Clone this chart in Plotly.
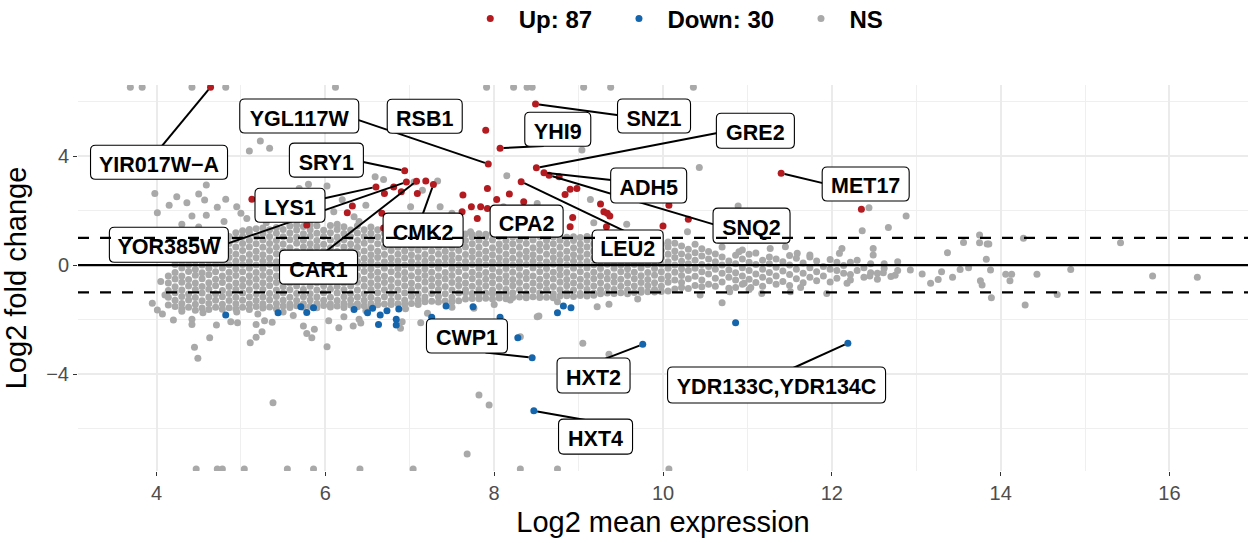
import math
import plotly.graph_objects as go

FONT = "Liberation Sans, Arial, Helvetica, sans-serif"
RED, BLUE, GREY = "#B31B21", "#1465AC", "#A9A9A9"

# ---------------- data ----------------
n_up, n_down = 87, 30
fc_line = 1.0
y_clip_hi, y_clip_lo = 6.53, -7.49

x_ticks = [4, 6, 8, 10, 12, 14, 16]
y_ticks = [-4, 0, 4]
y_tick_text = ["\u22124", "0", "4"]

# labelled genes
lab_gene = ["YIR017W\u2212A", "YGL117W", "RSB1", "SNZ1", "YHI9", "GRE2", "SRY1", "LYS1",
            "YOR385W", "CAR1", "CMK2", "CPA2", "LEU2", "ADH5", "SNQ2", "MET17",
            "CWP1", "HXT2", "HXT4", "YDR133C,YDR134C"]
lab_x = [4.64, 7.93, 7.90, 8.49, 8.07, 8.50, 6.94, 6.60, 6.96, 7.08, 7.28, 7.92, 8.32,
         8.59, 8.65, 11.40, 8.45, 9.76, 8.47, 12.19]
lab_y = [6.53, 3.71, 4.95, 5.91, 4.29, 3.57, 3.46, 2.87, 3.05, 3.08, 2.96, 2.08, 3.06,
         3.39, 3.30, 3.37, -3.40, -2.91, -5.35, -2.87]
lab_dir = ["up"] * 16 + ["down"] * 4

# other up-regulated genes
up_x = [5.13, 6.70, 6.32, 6.26, 6.67, 5.78, 6.69, 6.81, 6.90, 7.19, 7.92, 8.18, 8.03, 8.35,
        7.63, 7.73, 7.84, 7.62, 7.80, 8.90, 8.98, 8.84, 9.26, 9.30, 9.34, 9.37, 8.93, 8.90,
        9.33, 10.00, 10.07, 10.30, 12.35, 8.77, 7.09]
up_y = [2.42, 2.63, 2.17, 1.92, 1.90, 1.47, 1.36, 2.87, 2.69, 3.09, 2.81, 2.61, 2.41, 2.32,
        2.57, 2.14, 2.14, 1.96, 1.71, 2.78, 2.81, 2.59, 2.24, 1.96, 1.90, 1.80, 1.75, 1.41,
        1.41, 1.43, 2.20, 1.68, 2.05, 3.24, 2.63]

# other down-regulated genes
down_x = [4.82, 5.44, 5.71, 5.78, 5.86, 6.34, 6.50, 6.56, 6.63, 6.65, 6.73, 6.84, 6.84, 6.87,
          7.43, 7.75, 7.26, 8.07, 8.28, 8.82, 8.91, 8.75, 10.86]
down_y = [-1.83, -1.75, -1.53, -1.74, -1.57, -1.63, -1.75, -1.59, -2.18, -1.83, -1.68, -1.99,
          -2.20, -1.61, -1.50, -1.53, -1.92, -1.92, -2.67, -1.50, -1.57, -1.75, -2.12]

# NS genes: dense central band, read column by column (x, fold changes)
ns_band = [
    (4.14, [-1.47, -1.18, -0.93, -0.66, -0.40]),
    (4.22, [-1.52, -1.29, -1.02, -0.80, -0.51, -0.27, 0.02]),
    (4.30, [-1.60, -1.41, -1.15, -0.92, -0.63, -0.40, -0.11, 0.12, 0.30]),
    (4.38, [-1.55, -1.28, -1.06, -0.77, -0.53, -0.24, 0.01, 0.27, 0.49]),
    (4.46, [-1.66, -1.44, -1.19, -0.90, -0.66, -0.37, -0.15, 0.14, 0.38, 0.62]),
    (4.54, [-1.58, -1.31, -1.03, -0.79, -0.50, -0.28, 0.00, 0.25, 0.53, 0.78]),
    (4.62, [-1.63, -1.41, -1.17, -0.89, -0.65, -0.36, -0.12, 0.15, 0.42, 0.66, 0.90]),
    (4.70, [-1.55, -1.29, -1.05, -0.76, -0.52, -0.25, 0.03, 0.27, 0.54, 0.80, 1.01]),
    (4.78, [-1.62, -1.44, -1.16, -0.93, -0.64, -0.40, -0.11, 0.12, 0.40, 0.65, 0.92, 1.06]),
    (4.86, [-1.57, -1.30, -1.04, -0.79, -0.51, -0.26, 0.01, 0.28, 0.52, 0.79, 1.05]),
    (4.94, [-1.61, -1.42, -1.18, -0.90, -0.66, -0.38, -0.14, 0.14, 0.40, 0.66, 0.93, 1.19]),
    (5.02, [-1.55, -1.29, -1.03, -0.77, -0.53, -0.25, 0.02, 0.26, 0.53, 0.79, 1.05, 1.26]),
    (5.10, [-1.63, -1.43, -1.16, -0.91, -0.64, -0.39, -0.12, 0.13, 0.39, 0.66, 0.91, 1.18, 1.31]),
    (5.18, [-1.52, -1.30, -1.05, -0.78, -0.52, -0.27, 0.00, 0.27, 0.51, 0.78, 1.04, 1.33]),
    (5.26, [-1.58, -1.42, -1.17, -0.90, -0.65, -0.38, -0.13, 0.14, 0.38, 0.65, 0.92, 1.16, 1.36]),
    (5.34, [-1.54, -1.28, -1.04, -0.76, -0.51, -0.26, 0.03, 0.26, 0.53, 0.79, 1.05, 1.30]),
    (5.42, [-1.60, -1.41, -1.15, -0.92, -0.64, -0.40, -0.12, 0.12, 0.41, 0.65, 0.90, 1.17, 1.38]),
    (5.50, [-1.50, -1.29, -1.03, -0.79, -0.52, -0.25, 0.01, 0.28, 0.52, 0.77, 1.04, 1.31]),
    (5.58, [-1.56, -1.43, -1.18, -0.91, -0.66, -0.37, -0.14, 0.15, 0.39, 0.64, 0.93, 1.18, 1.43]),
    (5.66, [-1.49, -1.30, -1.04, -0.77, -0.50, -0.27, 0.00, 0.25, 0.51, 0.80, 1.03, 1.29, 1.47]),
    (5.74, [-1.55, -1.42, -1.16, -0.90, -0.63, -0.39, -0.13, 0.13, 0.38, 0.66, 0.91, 1.15, 1.42]),
    (5.82, [-1.51, -1.28, -1.05, -0.78, -0.53, -0.24, 0.02, 0.27, 0.54, 0.78, 1.06, 1.30, 1.48]),
    (5.90, [-1.57, -1.41, -1.17, -0.92, -0.65, -0.38, -0.11, 0.12, 0.40, 0.67, 0.90, 1.17, 1.44]),
    (5.98, [-1.48, -1.29, -1.02, -0.76, -0.51, -0.26, 0.01, 0.28, 0.52, 0.76, 1.05, 1.28]),
    (6.06, [-1.54, -1.43, -1.18, -0.89, -0.64, -0.40, -0.12, 0.15, 0.41, 0.64, 0.92, 1.19, 1.45]),
    (6.14, [-1.50, -1.30, -1.03, -0.79, -0.52, -0.25, 0.03, 0.26, 0.50, 0.79, 1.03, 1.31, 1.50]),
    (6.22, [-1.56, -1.40, -1.16, -0.91, -0.66, -0.37, -0.13, 0.14, 0.39, 0.66, 0.93, 1.16, 1.41]),
    (6.30, [-1.47, -1.27, -1.04, -0.77, -0.50, -0.27, 0.00, 0.27, 0.53, 0.77, 1.04, 1.29]),
    (6.38, [-1.53, -1.42, -1.17, -0.92, -0.63, -0.39, -0.11, 0.13, 0.40, 0.65, 0.90, 1.18, 1.44]),
    (6.46, [-1.49, -1.29, -1.05, -0.78, -0.52, -0.24, 0.02, 0.25, 0.52, 0.80, 1.05, 1.30]),
    (6.54, [-1.55, -1.41, -1.18, -0.90, -0.65, -0.38, -0.14, 0.14, 0.38, 0.64, 0.92, 1.17, 1.40]),
    (6.62, [-1.46, -1.28, -1.02, -0.76, -0.51, -0.26, 0.01, 0.28, 0.51, 0.78, 1.04, 1.30]),
    (6.70, [-1.43, -1.16, -0.91, -0.64, -0.40, -0.12, 0.12, 0.39, 0.66, 0.91, 1.17, 1.36]),
    (6.78, [-1.45, -1.30, -1.04, -0.79, -0.53, -0.25, 0.03, 0.26, 0.53, 0.79, 1.03, 1.29]),
    (6.86, [-1.42, -1.17, -0.92, -0.65, -0.37, -0.13, 0.15, 0.40, 0.65, 0.92, 1.18, 1.33]),
    (6.94, [-1.44, -1.29, -1.03, -0.77, -0.51, -0.27, 0.00, 0.27, 0.52, 0.77, 1.05, 1.27]),
    (7.02, [-1.41, -1.15, -0.90, -0.66, -0.39, -0.11, 0.13, 0.38, 0.64, 0.90, 1.16, 1.35]),
    (7.10, [-1.45, -1.28, -1.05, -0.78, -0.50, -0.25, 0.02, 0.28, 0.54, 0.78, 1.04, 1.28]),
    (7.18, [-1.35, -1.17, -0.91, -0.63, -0.38, -0.14, 0.14, 0.39, 0.66, 0.92, 1.17]),
    (7.26, [-1.33, -1.04, -0.77, -0.52, -0.26, 0.01, 0.25, 0.52, 0.79, 1.03, 1.25]),
    (7.34, [-1.36, -1.16, -0.90, -0.65, -0.40, -0.12, 0.12, 0.40, 0.65, 0.91, 1.18]),
    (7.42, [-1.32, -1.05, -0.79, -0.51, -0.27, 0.03, 0.27, 0.51, 0.78, 1.05, 1.22]),
    (7.50, [-1.35, -1.18, -0.92, -0.64, -0.38, -0.13, 0.15, 0.38, 0.64, 0.93, 1.16]),
    (7.58, [-1.31, -1.03, -0.76, -0.53, -0.25, 0.00, 0.26, 0.53, 0.77, 1.04, 1.24]),
    (7.66, [-1.25, -1.02, -0.91, -0.66, -0.39, -0.11, 0.13, 0.39, 0.66, 0.90, 1.14]),
    (7.74, [-1.23, -1.04, -0.78, -0.50, -0.26, 0.02, 0.28, 0.52, 0.78, 1.03, 1.12]),
    (7.82, [-1.24, -1.07, -0.90, -0.64, -0.37, -0.12, 0.14, 0.40, 0.65, 0.91, 1.15]),
    (7.90, [-1.22, -1.03, -0.77, -0.52, -0.27, 0.01, 0.26, 0.51, 0.79, 1.04, 1.13]),
    (7.98, [-1.25, -1.05, -0.92, -0.65, -0.40, -0.14, 0.12, 0.38, 0.64, 0.92, 1.15]),
    (8.06, [-1.21, -1.05, -0.79, -0.51, -0.25, 0.03, 0.27, 0.53, 0.77, 1.05, 1.12]),
    (8.14, [-1.24, -1.06, -0.90, -0.63, -0.39, -0.13, 0.15, 0.40, 0.66, 0.90, 1.14]),
    (8.22, [-1.19, -1.02, -0.76, -0.53, -0.26, 0.00, 0.25, 0.52, 0.78, 1.03, 1.10]),
    (8.30, [-1.17, -0.91, -0.64, -0.38, -0.12, 0.13, 0.39, 0.65, 0.91, 1.08]),
    (8.38, [-1.20, -1.04, -0.78, -0.50, -0.27, 0.02, 0.28, 0.51, 0.79, 1.04]),
    (8.46, [-1.16, -0.92, -0.66, -0.40, -0.11, 0.14, 0.38, 0.64, 0.92, 1.09]),
    (8.54, [-1.19, -1.03, -0.77, -0.52, -0.25, 0.01, 0.26, 0.53, 0.77, 1.05]),
    (8.62, [-1.18, -0.90, -0.65, -0.39, -0.13, 0.12, 0.40, 0.66, 0.90, 1.07]),
    (8.70, [-1.20, -1.05, -0.79, -0.51, -0.26, 0.03, 0.27, 0.52, 0.78, 1.03]),
    (8.78, [-1.14, -0.91, -0.63, -0.37, -0.14, 0.15, 0.39, 0.65, 0.91, 1.05]),
    (8.86, [-1.13, -1.02, -0.76, -0.53, -0.27, 0.00, 0.25, 0.51, 0.79, 1.02]),
    (8.94, [-1.15, -0.92, -0.66, -0.40, -0.12, 0.14, 0.38, 0.64, 0.90, 1.04]),
    (9.02, [-1.12, -1.04, -0.78, -0.52, -0.25, 0.02, 0.28, 0.53, 0.77, 1.01]),
    (9.10, [-1.14, -0.90, -0.64, -0.38, -0.11, 0.13, 0.40, 0.66, 0.92, 1.05]),
    (9.18, [-1.11, -1.03, -0.77, -0.50, -0.26, 0.01, 0.26, 0.52, 0.78, 1.03]),
    (9.26, [-1.05, -0.91, -0.65, -0.39, -0.13, 0.15, 0.39, 0.65, 0.91, 1.00]),
    (9.34, [-1.03, -0.79, -0.51, -0.27, 0.03, 0.27, 0.51, 0.79, 0.98]),
    (9.42, [-1.04, -0.90, -0.63, -0.40, -0.12, 0.12, 0.38, 0.64, 0.92]),
    (9.50, [-1.02, -0.78, -0.52, -0.25, 0.00, 0.28, 0.53, 0.77, 0.99]),
    (9.58, [-1.05, -0.92, -0.66, -0.38, -0.14, 0.14, 0.40, 0.66, 0.90]),
    (9.66, [-1.01, -0.77, -0.50, -0.26, 0.02, 0.25, 0.52, 0.78, 0.97]),
    (9.74, [-1.00, -0.91, -0.64, -0.39, -0.11, 0.13, 0.39, 0.65, 0.89]),
    (9.82, [-0.98, -0.76, -0.53, -0.27, 0.01, 0.26, 0.50, 0.79, 0.88]),
    (9.90, [-0.99, -0.90, -0.65, -0.37, -0.13, 0.15, 0.38, 0.64, 0.86]),
    (9.98, [-0.97, -0.78, -0.51, -0.25, 0.03, 0.27, 0.53, 0.77]),
    (10.06, [-0.95, -0.63, -0.40, -0.12, 0.12, 0.40, 0.66, 0.85]),
    (10.14, [-0.88, -0.55, -0.26, 0.00, 0.28, 0.52, 0.80]),
    (10.22, [-0.82, -0.64, -0.38, -0.14, 0.14, 0.41, 0.70]),
    (10.30, [-0.86, -0.50, -0.20, 0.05, 0.31, 0.58]),
    (10.38, [-0.75, -0.41, -0.12, 0.18, 0.45, 0.76]),
    (10.46, [-0.80, -0.55, -0.25, 0.02, 0.33, 0.60]),
    (10.54, [-0.70, -0.33, -0.05, 0.22, 0.50]),
    (10.62, [-0.78, -0.48, -0.15, 0.12, 0.41]),
    (10.70, [-0.62, -0.30, 0.00, 0.30, 0.66]),
    (10.78, [-0.85, -0.45, -0.18, 0.15]),
    (10.86, [-0.82, -0.55, -0.28, 0.05, 0.36]),
    (10.94, [-0.70, -0.40, -0.10, 0.22, 0.55]),
    (11.02, [-0.90, -0.52, -0.20, 0.10, 0.40]),
    (11.10, [-0.64, -0.33, 0.02, 0.44]),
    (11.18, [-0.78, -0.45, -0.15, 0.18]),
    (11.26, [-0.58, -0.27, 0.05, 0.30]),
    (11.34, [-0.70, -0.40, -0.08, 0.22]),
    (11.42, [-0.60, -0.22, 0.12]),
    (11.50, [-0.75, -0.35, 0.00, 0.35]),
    (11.58, [-0.50, -0.15, 0.25]),
    (11.66, [-0.65, -0.30, 0.08]),
    (11.74, [-0.45, -0.10, 0.30]),
    (11.82, [-0.58, -0.25, 0.15]),
    (11.90, [-0.40, -0.05]),
    (11.98, [-0.62, -0.15, 0.20]),
    (12.06, [-0.48, -0.20, 0.10]),
    (12.14, [-0.30, -0.02]),
    (12.22, [-0.55, -0.35, 0.10]),
    (12.30, [-0.20, 0.18]),
    (12.38, [-0.45, -0.10]),
    (12.46, [-0.28, 0.05]),
    (12.54, [-0.52, -0.30]),
    (12.62, [-0.12, 0.05]),
    (12.70, [-0.42]),
    (12.78, [-0.20, 0.12]),
]

# NS genes outside the band
ns_x = [5.23, 5.10, 5.34, 4.59, 3.98, 4.24, 4.50, 4.82, 4.36, 4.57, 4.15, 4.72, 4.01, 4.42,
        4.59, 4.95, 5.80, 6.02, 5.69, 6.59, 6.69, 6.48, 6.10, 6.34, 5.07, 5.26, 5.45, 5.67,
        5.86, 9.04, 8.15, 9.14, 9.57, 10.43, 7.05, 7.33, 7.15, 7.36, 7.01, 8.11, 8.51, 10.89,
        12.44, 12.88, 12.67, 12.36, 13.75, 13.56, 13.84, 13.37, 13.83, 12.49, 12.49, 12.12,
        12.09, 14.27, 15.42, 9.18, 10.29, 7.72, 4.30, 4.50, 4.80, 5.00, 5.30, 5.60, 5.90,
        6.20, 6.40, 6.80, 7.10, 7.40, 7.50, 11.27, 11.45, 10.90, 11.59, 11.74, 13.75, 13.86,
        13.88, 14.06, 14.13, 14.43, 14.83, 15.80, 16.33, 14.29, 13.89, 14.67, 14.11, 13.78,
        13.52, 13.62, 13.76, 13.43, 13.17, 13.26, 13.30, 13.07, 12.93, 12.75, 12.61, 12.45,
        12.18, 11.94, 11.63, 11.51, 11.17, 11.04, 10.96, 10.70, 10.44, 10.79,
        4.01, 4.07, 4.20, 4.42, 4.42, 4.45, 4.49, 4.63, 4.71, 4.88, 4.96, 5.11, 5.18, 5.25,
        5.18, 5.28, 5.37, 5.38, 5.74, 5.78, 5.84, 5.87, 6.02, 6.04, 6.16, 6.22, 6.33, 6.40,
        6.42, 6.48, 7.13, 7.21, 6.91, 6.89, 7.76, 8.31, 8.51, 9.05, 9.36, 9.22, 9.36, 7.82,
        7.94, 7.68, 8.19, 8.53, 4.30, 4.55, 4.95, 5.20, 5.50, 5.62, 6.95, 7.50, 8.00, 8.75,
        9.70, 4.10, 4.05, 3.95]
ns_y = [4.55, 4.19, 4.29, 2.94, 2.63, 2.51, 2.61, 2.42, 2.29, 2.39, 2.20, 2.12, 1.92, 1.80,
        1.83, 2.14, 2.97, 2.90, 2.81, 3.24, 3.14, 2.20, 1.96, 1.77, 1.71, 1.90, 1.83, 1.65,
        1.77, 4.22, 3.28, 2.41, 1.50, 3.58, 3.05, 3.09, 2.75, 2.14, 2.14, 2.14, 2.26, 2.17,
        2.10, 1.80, 1.38, 1.26, 1.10, 0.83, 0.77, 0.45, 0.21, 0.61, 0.37, 0.61,
        0.43, 0.98, 0.82, 1.55, 1.22, 1.22, 1.50, 1.40, 1.60, 1.90, 1.55, 2.20, 2.10,
        2.40, 1.60, 1.60, 1.50, 1.60, 1.90, 0.61, 0.67, 0.49, 0.43, 0.37, 0.82, 0.77,
        -0.18, -0.34, -0.34, -0.34, -0.16, -0.40, -0.45, -1.47, -1.20, -1.08, -0.58, -0.73,
        -0.16, -0.10, -0.58, -0.45, -0.67, -0.53, -0.25, -0.33, -0.18, -0.37, -0.28, -0.40,
        -0.67, -1.04, -0.82, -0.98, -1.04, -0.82, -0.67, -1.38, -1.10, -0.98,
        -1.65, -1.80, -2.02, -1.99, -2.18, -3.02, -3.42, -2.67, -2.20, -2.08, -2.12, -2.85,
        -2.65, -2.45, -2.18, -2.04, -2.10, -5.05, -2.24, -2.51, -2.67, -2.36, -3.00, -2.04,
        -2.30, -1.90, -2.24, -1.99, -2.13, -1.68, -2.12, -1.77, -2.08, -2.32, -1.59, -2.63,
        -1.90, -2.87, -3.27, -1.53, -1.44, -4.77, -5.14, -6.94, -1.28, -1.87, -1.70, -1.75,
        -1.72, -1.80, -1.72, -1.85, -1.60, -1.55, -1.45, -1.35, -1.25, -1.10, -0.60, -1.40]

# NS genes squished onto the top / bottom limits of the y scale
ns_top_x = [3.69, 3.83, 4.42, 4.82, 6.12, 7.91, 8.23, 8.39, 8.45, 9.06, 9.38, 10.36]
ns_bot_x = [4.47, 4.72, 4.78, 5.04, 5.55, 5.86, 6.41, 7.04, 8.31, 8.75, 10.07]

# ---------------- label placement (pixels, screen y downwards) ----------------
# (label-centre dx, dy, box width, box height, segment end dx, dy or None)
label_layout = [
    (-51.5, 75, 137, 34, (-48, 58)),
    (-189, -48, 119, 34, (-130, -44)),
    (-61, -14, 75, 34, None),
    (118.5, 12, 73, 34, (82, 11)),
    (57.7, -19, 66, 34, (38.7, -2)),
    (219, -37, 78, 35, (180, -34.7)),
    (-78.3, -10.7, 74, 34, (-41.3, -8.7)),
    (-86, 18.3, 70, 34, (-51, 11.3)),
    (-237.5, 62.8, 119, 35, (-178, 61.3)),
    (-98, 86, 78, 34, (-89, 69)),
    (-10.3, 45.7, 80, 34, (-10.3, 28.7)),
    (39.2, 12.7, 73, 32, None),
    (106.5, 64.8, 71, 33, (99, 47.3)),
    (104.7, 12.8, 76, 35, (66.7, 7.3)),
    (202.5, 50.5, 77, 35, (164, 49)),
    (84.5, 10.7, 87, 34, (41, 9.7)),
    (-65.2, -21.7, 81, 34, (-41.7, -4.7)),
    (-49.2, 31.2, 73, 35, (-35.7, 13.7)),
    (61.7, 25.8, 74, 35, (46.7, 8.3)),
    (-71.3, 41.7, 218, 36, (-52.3, 23.7)),
]

# ---------------- axes geometry ----------------
X_RANGE = [3.07, 16.93]
Y_RANGE = [-7.56, 6.61]
W, H = 1248, 543
M_L, M_R, M_T, M_B = 78, 0, 85, 72
PX_PER_X = (W - M_L - M_R) / (X_RANGE[1] - X_RANGE[0])
PX_PER_Y = (H - M_T - M_B) / (Y_RANGE[1] - Y_RANGE[0])

# ---------------- build traces ----------------
nsx, nsy = [], []
for cx, ys in ns_band:
    nsx += [cx] * len(ys)
    nsy += ys
nsx += ns_x
nsy += ns_y
nsx += ns_top_x
nsy += [y_clip_hi] * len(ns_top_x)
nsx += ns_bot_x
nsy += [y_clip_lo] * len(ns_bot_x)

upx = up_x + [x for x, d in zip(lab_x, lab_dir) if d == "up"]
upy = up_y + [y for y, d in zip(lab_y, lab_dir) if d == "up"]
dnx = down_x + [x for x, d in zip(lab_x, lab_dir) if d == "down"]
dny = down_y + [y for y, d in zip(lab_y, lab_dir) if d == "down"]

MS = 7
fig = go.Figure()
fig.add_trace(go.Scatter(x=nsx, y=nsy, mode="markers", name="<b>NS</b>\u00a0\u00a0",
                         legendrank=3, marker=dict(size=MS, color=GREY, line=dict(width=0))))
fig.add_trace(go.Scatter(x=upx, y=upy, mode="markers", name=f"<b>Up: {n_up}</b>\u00a0\u00a0",
                         legendrank=1, marker=dict(size=MS, color=RED, line=dict(width=0))))
fig.add_trace(go.Scatter(x=dnx, y=dny, mode="markers", name=f"<b>Down: {n_down}</b>\u00a0\u00a0",
                         legendrank=2, marker=dict(size=MS, color=BLUE, line=dict(width=0))))


def rrect_path(cx, cy, w, h, r=5.0):
    x0, x1 = cx - w / 2, cx + w / 2
    y0, y1 = cy - h / 2, cy + h / 2
    return (f"M{x0 + r},{y1} L{x1 - r},{y1} Q{x1},{y1} {x1},{y1 - r} "
            f"L{x1},{y0 + r} Q{x1},{y0} {x1 - r},{y0} L{x0 + r},{y0} "
            f"Q{x0},{y0} {x0},{y0 + r} L{x0},{y1 - r} Q{x0},{y1} {x0 + r},{y1} Z")


seg_shapes, box_shapes, text_shapes = [], [], []
for g, px, py, (dx, dy, w, h, seg) in zip(lab_gene, lab_x, lab_y, label_layout):
    common = dict(xref="x", yref="y", xsizemode="pixel", ysizemode="pixel",
                  xanchor=px, yanchor=py, layer="above")
    if seg is not None:
        ex, ey = seg
        L = math.hypot(ex, ey)
        ux, uy = ex / L, ey / L
        sx, sy = ux * 3.5, uy * 3.5
        ex2, ey2 = ex + ux * 5, ey + uy * 5
        seg_shapes.append(dict(type="line", x0=sx, x1=ex2, y0=-sy, y1=-ey2,
                               line=dict(color="black", width=2.0), **common))
    box_shapes.append(dict(type="path", path=rrect_path(dx, -dy, w, h),
                           fillcolor="white", line=dict(color="black", width=1.1), **common))
    # text carrier in data units (so that the label text renders as part of the shape layer)
    cxd = px + dx / PX_PER_X
    cyd = py - dy / PX_PER_Y
    text_shapes.append(dict(type="rect", xref="x", yref="y", layer="above",
                            x0=cxd - w / 2 / PX_PER_X, x1=cxd + w / 2 / PX_PER_X,
                            y0=cyd - h / 2 / PX_PER_Y, y1=cyd + h / 2 / PX_PER_Y,
                            fillcolor="rgba(0,0,0,0)",
                            line=dict(width=0, color="rgba(0,0,0,0)"),
                            label=dict(text=f"<b>{g}</b>", textposition="middle center",
                                       font=dict(size=21.5, color="black", family=FONT))))

h_lines = [
    dict(type="line", xref="paper", x0=0, x1=1, yref="y", y0=0, y1=0, layer="above",
         line=dict(color="black", width=2.2)),
    dict(type="line", xref="paper", x0=0, x1=1, yref="y", y0=fc_line, y1=fc_line, layer="above",
         line=dict(color="black", width=2.2, dash="11px,11px")),
    dict(type="line", xref="paper", x0=0, x1=1, yref="y", y0=-fc_line, y1=-fc_line, layer="above",
         line=dict(color="black", width=2.2, dash="11px,11px")),
]

fig.update_layout(shapes=seg_shapes + box_shapes + text_shapes + h_lines)

axis_common = dict(
    showgrid=True, gridcolor="#EBEBEB", gridwidth=1.8,
    zeroline=False, showline=False,
    ticks="outside", ticklen=4, tickwidth=1.2, tickcolor="#333333",
    tickfont=dict(size=20, color="#4D4D4D", family=FONT),
)

fig.update_xaxes(
    range=X_RANGE, tickmode="array", tickvals=x_ticks, ticktext=[str(v) for v in x_ticks],
    minor=dict(tickvals=[5, 7, 9, 11, 13, 15], showgrid=True, gridcolor="#EFEFEF", gridwidth=1.1,
               ticks=""),
    title=dict(text="Log2 mean expression", font=dict(size=29, color="black", family=FONT),
               standoff=8),
    **axis_common,
)
fig.update_yaxes(
    range=Y_RANGE, tickmode="array", tickvals=y_ticks, ticktext=y_tick_text,
    minor=dict(tickvals=[-6, -2, 2, 6], showgrid=True, gridcolor="#EFEFEF", gridwidth=1.1,
               ticks=""),
    title=dict(text="Log2 fold change", font=dict(size=29, color="black", family=FONT),
               standoff=14),
    **axis_common,
)

fig.update_layout(
    width=W, height=H,
    margin=dict(l=M_L, r=M_R, t=M_T, b=M_B, autoexpand=False),
    paper_bgcolor="white", plot_bgcolor="white",
    font=dict(family=FONT, color="black"),
    showlegend=True,
    legend=dict(orientation="h", x=0.328, xanchor="left", y=1.171, yanchor="middle",
                font=dict(size=24, color="black", family=FONT), itemwidth=47,
                bgcolor="rgba(0,0,0,0)", traceorder="normal"),
    hovermode=False,
)

fig.write_html("out.html")
